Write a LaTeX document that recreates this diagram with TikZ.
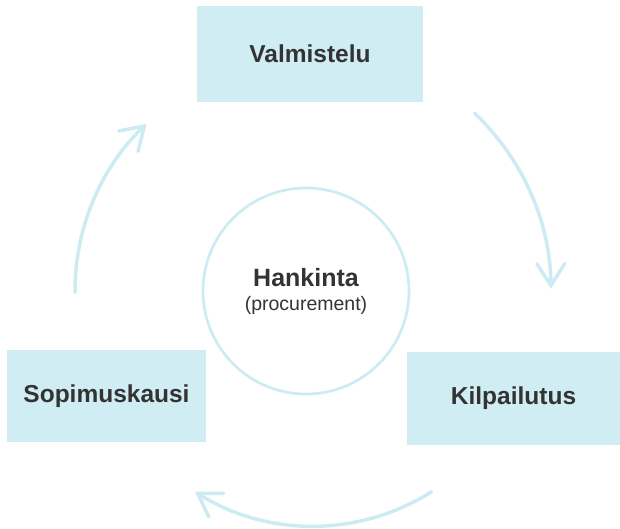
\documentclass[tikz,border=0pt]{standalone}
\usepackage{fontspec}
\setmainfont{Liberation Sans}
\usetikzlibrary{arrows.meta}
\definecolor{boxfill}{HTML}{D0EDF3}
\definecolor{linec}{HTML}{CDEBF2}
\definecolor{txt}{HTML}{333333}
\begin{document}
\begin{tikzpicture}[x=1pt,y=1pt,
  phase/.style={fill=boxfill, draw=none, inner sep=0pt, text=txt,
    font=\fontsize{24.5}{28}\selectfont\bfseries},
  hubstyle/.style={circle, draw=linec, line width=2.7pt, minimum size=206pt,
    inner sep=0pt, align=center, text=txt, font=\fontsize{19.5}{24}\selectfont},
  cyc/.style={draw=linec, line width=3.5pt, line cap=round,
    -{Straight Barb[length=22pt,width=28pt,line cap=round]}}]
\useasboundingbox (0,0) rectangle (620,528);
\node[phase, minimum width=226pt, minimum height=96pt] (valm) at (310,474) {Valmistelu};
\node[phase, minimum width=199pt, minimum height=92pt] (sopi) at (106.5,132) {Sopimuskausi};
\node[phase, minimum width=213pt, minimum height=93pt] (kilp) at (513.5,129.5) {Kilpailutus};
\node[hubstyle] (hub) at (306,237) {{\fontsize{25}{24}\selectfont\bfseries Hankinta}\\(procurement)};
\draw[cyc] ([shift={(46.5:245)}]hub.center) arc[start angle=46.5, end angle=0.5, radius=245];
\draw[cyc] ([shift={(7.3,-13.5)}]hub.center) ++(-57.7:221.5) arc[start angle=-57.7, end angle=-122.3, radius=221.5];
\draw[cyc] ([shift={(180.4:231)}]hub.center) arc[start angle=180.4, end angle=133.6, radius=231];
\end{tikzpicture}
\end{document}
